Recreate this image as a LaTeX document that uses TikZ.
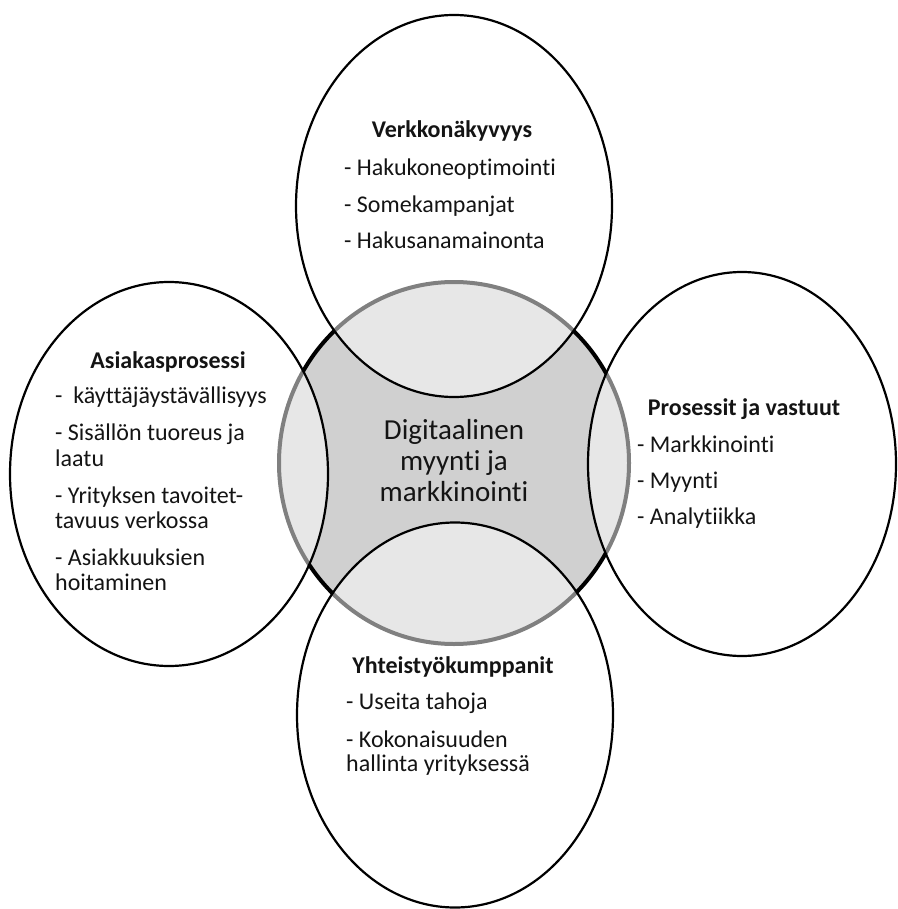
\documentclass[tikz,border=0pt]{standalone}
\usepackage{fontspec}
\setmainfont[Ligatures={NoCommon}]{Carlito}
\usetikzlibrary{shapes.geometric}
\definecolor{hubgray}{RGB}{208,208,208}
\definecolor{ink}{RGB}{20,20,20}
\begin{document}
\begin{tikzpicture}[x=1pt,y=-1pt,
  hub/.style={ellipse,inner sep=0pt,outer sep=0pt,fill=hubgray,draw=black,line width=4pt},
  bubble/.style={ellipse,inner sep=0pt,outer sep=0pt,draw=black,line width=2.2pt,fill=white,fill opacity=0.5,draw opacity=1},
  txt/.style={font=\fontsize{24}{26}\selectfont,inner sep=0pt,anchor=base west,text=ink},
  ttl/.style={font=\fontsize{24}{26}\selectfont\bfseries,inner sep=0pt,anchor=base,text=ink},
  ctr/.style={font=\fontsize{29}{31}\selectfont,inner sep=0pt,anchor=base,text=ink}]
\useasboundingbox (0,0) rectangle (897,909);
% central circle
\node[hub,minimum width=350pt,minimum height=362pt] (hub) at (454,463) {};
% four bubbles
\node[bubble,minimum width=316pt,minimum height=382pt] (top) at (454,206) {};
\node[bubble,minimum width=318pt,minimum height=384pt] (left) at (169,474) {};
\node[bubble,minimum width=308pt,minimum height=384pt] (right) at (742,464) {};
\node[bubble,minimum width=316pt,minimum height=385pt] (bottom) at (455,715) {};
% centre text
\node[ctr] (c1) at (454,439) {Digitaalinen};
\node[ctr] (c2) at (454,470) {myynti ja};
\node[ctr] (c3) at (454,501) {markkinointi};
% top
\node[ttl] (t0) at (452,138) {Verkkonäkyvyys};
\node[txt] (t1) at (344,176) {- Hakukoneoptimointi};
\node[txt] (t2) at (344,213) {- Somekampanjat};
\node[txt] (t3) at (344,248) {- Hakusanamainonta};
% left
\node[ttl] (l0) at (168,368) {Asiakasprosessi};
\node[txt] (l1) at (55,403) {-\ \ käyttäjäystävällisyys};
\node[txt] (l2) at (55,440) {- Sisällön tuoreus ja};
\node[txt] (l3) at (55,466) {laatu};
\node[txt] (l4) at (55,503) {- Yrityksen tavoitet-};
\node[txt] (l5) at (55,528) {tavuus verkossa};
\node[txt] (l6) at (55,565) {- Asiakkuuksien};
\node[txt] (l7) at (55,590) {hoitaminen};
% right
\node[ttl] (r0) at (744,415) {Prosessit ja vastuut};
\node[txt] (r1) at (637,452) {- Markkinointi};
\node[txt] (r2) at (637,488) {- Myynti};
\node[txt] (r3) at (637,524) {- Analytiikka};
% bottom
\node[ttl] (b0) at (453,673) {Yhteistyökumppanit};
\node[txt] (b1) at (346,709) {- Useita tahoja};
\node[txt] (b2) at (346,747) {- Kokonaisuuden};
\node[txt] (b3) at (346,771) {hallinta yrityksessä};
\end{tikzpicture}
\end{document}
